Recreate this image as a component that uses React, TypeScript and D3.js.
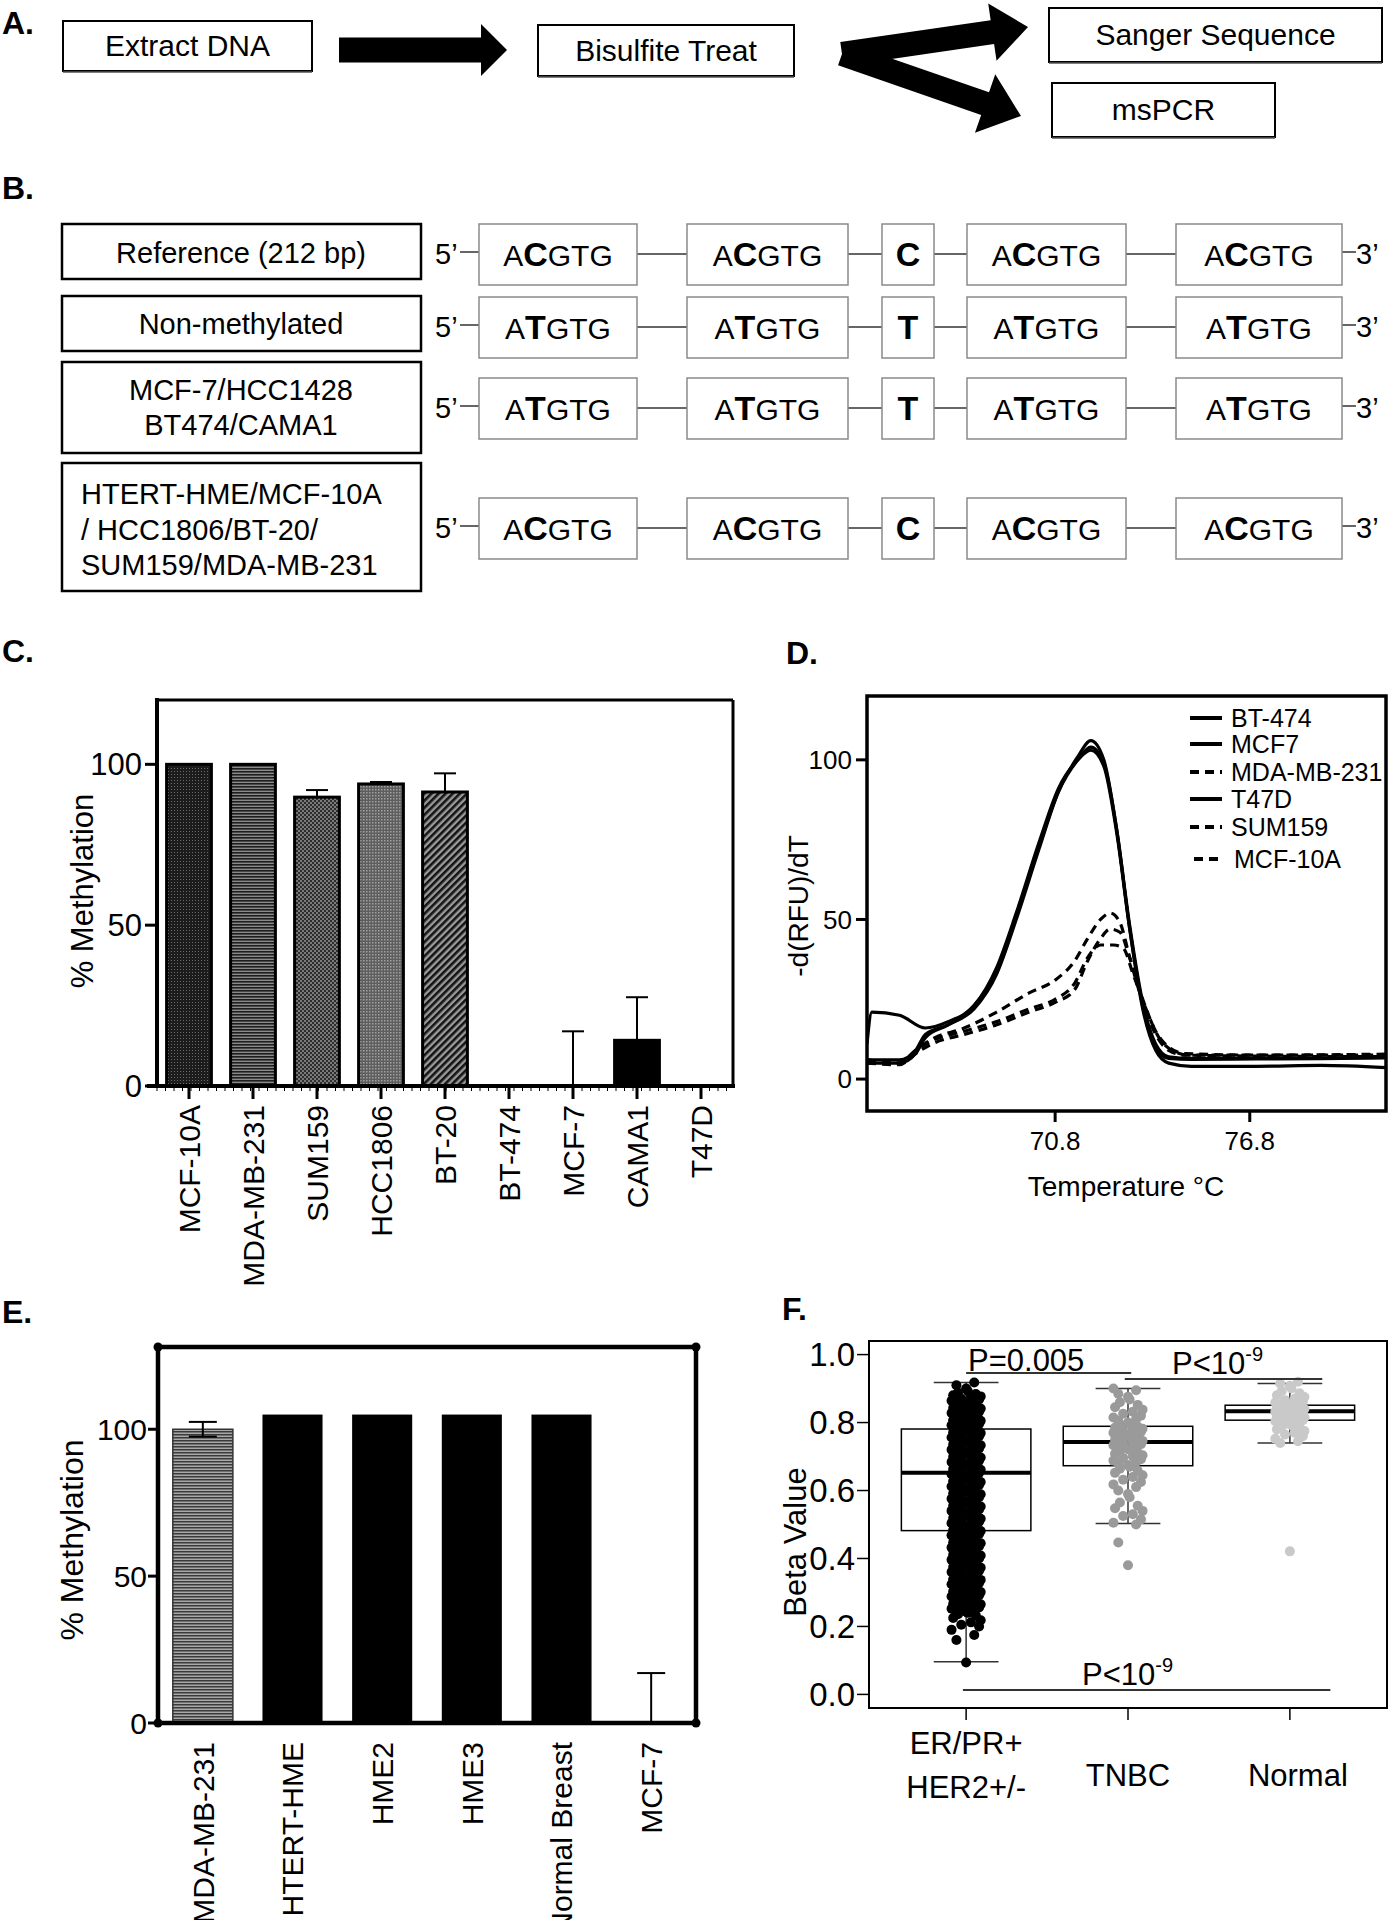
import * as d3 from "d3";

const FONT = "'Liberation Sans', Arial, Helvetica, sans-serif";

// ---------- A: workflow ----------
const flowSteps = ["Extract DNA", "Bisulfite Treat", "Sanger Sequence", "msPCR"];

// ---------- B: bisulfite sequence rows ----------
const seqLabels = [
  ["Reference (212 bp)"],
  ["Non-methylated"],
  ["MCF-7/HCC1428", "BT474/CAMA1"],
  ["HTERT-HME/MCF-10A", "/ HCC1806/BT-20/", "SUM159/MDA-MB-231"],
];
const seqBase = ["C", "T", "T", "C"];

// ---------- C: % methylation, cell lines ----------
const cCells = ["MCF-10A", "MDA-MB-231", "SUM159", "HCC1806", "BT-20", "BT-474", "MCF-7", "CAMA1", "T47D"];
const cMeans = [100, 100, 89.8, 93.9, 91.4, 0, 0, 14.2, 0];
const cErr = [0, 0, 2.2, 0.6, 5.8, 0, 17, 13.4, 0];
const cTicks = [0, 50, 100];

// ---------- D: melt curves ----------
const dNames = ["BT-474", "MCF7", "MDA-MB-231", "T47D", "SUM159", "MCF-10A"];
const dDashed = [false, false, true, false, true, true];
const meltBT474 = [[65, 6], [66, 6], [66.5, 9], [66.8, 14], [67.5, 17], [68.3, 22], [69, 33], [69.6, 50], [70.3, 72], [70.9, 90], [71.5, 101], [71.9, 106], [72.3, 100], [72.7, 78], [73.1, 48], [73.5, 24], [73.9, 11], [74.3, 7], [75, 6.5], [77, 6.5], [79, 6.6], [81, 6.8]];
const meltMCF7 = [[65, 5], [66, 5], [66.5, 8], [66.8, 13], [67.5, 17], [68.3, 23], [69, 34], [69.6, 51], [70.3, 73], [70.9, 90], [71.5, 100], [71.9, 104], [72.3, 99], [72.7, 78], [73.1, 47], [73.5, 22], [73.9, 9], [74.3, 5], [75, 4], [77, 4], [79, 4.3], [81, 3.6]];
const meltMDA = [[65, 6], [66, 5], [66.5, 9], [67, 12.5], [68, 16], [69, 21], [70, 27], [70.8, 31], [71.4, 37], [71.8, 44], [72.2, 50], [72.5, 52], [72.8, 49], [73.1, 38], [73.5, 24], [73.9, 14], [74.3, 9], [74.8, 7.5], [77, 7.5], [81, 7.8]];
const meltT47D = [[65, 11], [65.15, 21], [66, 20], [66.8, 16], [67.5, 18], [68.3, 23], [69, 35], [69.6, 52], [70.3, 74], [70.9, 91], [71.5, 100], [71.9, 103], [72.3, 98], [72.7, 77], [73.1, 47], [73.5, 23], [73.9, 10], [74.3, 6.5], [75, 6.2], [77, 6.3], [79, 6.4], [81, 6.6]];
const meltSUM159 = [[65, 5], [66, 4.5], [66.5, 8], [67, 11], [68, 14], [69, 17], [70, 21], [70.8, 24], [71.4, 28], [71.8, 37], [72.2, 44], [72.5, 47], [72.8, 46], [73.1, 38], [73.5, 25], [73.9, 15], [74.3, 10], [74.8, 8], [77, 7.5], [81, 7.5]];
const meltMCF10A = [[65, 6], [66, 5], [66.5, 9], [67, 12], [68, 15], [69, 18], [70, 22], [70.8, 25], [71.4, 30], [71.8, 38], [72.2, 42], [72.6, 42], [72.9, 41], [73.2, 33], [73.6, 22], [74, 13], [74.4, 9], [74.9, 7.5], [77, 7.2], [81, 7]];
const dCurves = [meltBT474, meltMCF7, meltMDA, meltT47D, meltSUM159, meltMCF10A];
const dYTicks = [0, 50, 100];
const dXTicks = [70.8, 76.8];

// ---------- E: % methylation, normal lines ----------
const eCells = ["MDA-MB-231", "HTERT-HME", "HME2", "HME3", "Normal Breast", "MCF-7"];
const eMeans = [100, 105, 105, 105, 105, 0];
const eErr = [2.5, 0, 0, 0, 0, 17];

// ---------- F: beta values ----------
const fGroups = [["ER/PR+", "HER2+/-"], ["TNBC"], ["Normal"]];
const fQ1 = [0.482, 0.673, 0.807];
const fMed = [0.652, 0.743, 0.833];
const fQ3 = [0.781, 0.789, 0.851];
const fLo = [0.096, 0.503, 0.74];
const fHi = [0.918, 0.9, 0.915];
const fYTicks = [0, 0.2, 0.4, 0.6, 0.8, 1.0];
const erprBeta = [
  0.094, 0.16, 0.175, 0.19, 0.2, 0.205, 0.212, 0.218, 0.225, 0.232, 0.236,
  0.240, 0.243, 0.247, 0.249, 0.252, 0.256, 0.258, 0.261, 0.265, 0.267,
  0.270, 0.274, 0.276, 0.279, 0.283, 0.285, 0.288, 0.292, 0.294, 0.297,
  0.301, 0.303, 0.306, 0.310, 0.312, 0.315, 0.319, 0.321, 0.324, 0.328,
  0.330, 0.333, 0.337, 0.339, 0.342, 0.346, 0.348, 0.351, 0.355, 0.357,
  0.360, 0.364, 0.366, 0.369, 0.373, 0.375, 0.378, 0.382, 0.384, 0.387,
  0.391, 0.393, 0.396, 0.400, 0.402, 0.405, 0.409, 0.411, 0.414, 0.418,
  0.420, 0.423, 0.427, 0.429, 0.432, 0.436, 0.438, 0.441, 0.445, 0.447,
  0.450, 0.454, 0.456, 0.459, 0.463, 0.465, 0.468, 0.472, 0.474, 0.477,
  0.481, 0.483, 0.486, 0.490, 0.492, 0.495, 0.499, 0.501, 0.504, 0.508,
  0.510, 0.513, 0.517, 0.519, 0.522, 0.526, 0.528, 0.531, 0.535, 0.537,
  0.540, 0.544, 0.546, 0.549, 0.553, 0.555, 0.558, 0.562, 0.564, 0.567,
  0.571, 0.573, 0.576, 0.580, 0.582, 0.585, 0.589, 0.591, 0.594, 0.598,
  0.600, 0.603, 0.607, 0.609, 0.612, 0.616, 0.618, 0.621, 0.625, 0.627,
  0.630, 0.634, 0.636, 0.639, 0.643, 0.645, 0.648, 0.652, 0.654, 0.657,
  0.661, 0.663, 0.666, 0.670, 0.672, 0.675, 0.679, 0.681, 0.684, 0.688,
  0.690, 0.693, 0.697, 0.699, 0.702, 0.706, 0.708, 0.711, 0.715, 0.717,
  0.720, 0.724, 0.726, 0.729, 0.733, 0.735, 0.738, 0.742, 0.744, 0.747,
  0.751, 0.753, 0.756, 0.760, 0.762, 0.765, 0.769, 0.771, 0.774, 0.778,
  0.780, 0.783, 0.787, 0.789, 0.792, 0.796, 0.798, 0.801, 0.805, 0.807,
  0.810, 0.814, 0.816, 0.819, 0.823, 0.825, 0.828, 0.832, 0.834, 0.837,
  0.841, 0.843, 0.846, 0.850, 0.852, 0.855, 0.859, 0.861, 0.864, 0.868,
  0.870, 0.873, 0.877, 0.880, 0.884, 0.888, 0.893, 0.9, 0.91, 0.918,
];
const tnbcBeta = [
  0.38, 0.447, 0.5, 0.505, 0.515, 0.525, 0.53, 0.54, 0.548, 0.555, 0.565, 0.58,
  0.59, 0.6, 0.61, 0.618, 0.625, 0.632, 0.64, 0.645, 0.652, 0.658, 0.664, 0.67,
  0.675, 0.68, 0.684, 0.688, 0.692, 0.696, 0.7, 0.704, 0.708, 0.712, 0.716, 0.72,
  0.723, 0.726, 0.73, 0.733, 0.736, 0.74, 0.743, 0.746, 0.749, 0.752, 0.755, 0.758,
  0.761, 0.764, 0.767, 0.77, 0.773, 0.776, 0.779, 0.782, 0.785, 0.788, 0.792, 0.796,
  0.8, 0.805, 0.81, 0.815, 0.82, 0.826, 0.832, 0.838, 0.845, 0.852, 0.86, 0.868,
  0.876, 0.885, 0.895, 0.9,
];
const normalBeta = [
  0.421, 0.74, 0.745, 0.752, 0.76, 0.765, 0.77, 0.775, 0.78, 0.785, 0.788, 0.792,
  0.795, 0.798, 0.801, 0.804, 0.807, 0.81, 0.812, 0.815, 0.817, 0.82, 0.822, 0.824,
  0.826, 0.828, 0.83, 0.832, 0.834, 0.836, 0.838, 0.84, 0.842, 0.844, 0.846, 0.848,
  0.85, 0.853, 0.856, 0.859, 0.862, 0.866, 0.87, 0.875, 0.88, 0.886, 0.893, 0.9,
  0.908, 0.915, 0.92,
];
const fPoints = [erprBeta, tnbcBeta, normalBeta];
const fColors = ["#000000", "#9a9a9a", "#c9c9c9"];
// fixed horizontal jitter cycle (group units)
const jitter = [0, -0.06, 0.05, -0.09, 0.08, -0.03, 0.03, 0.09, -0.08, 0.06, -0.05, 0.01];

const cFills = ["url(#pDots)", "url(#pHoriz)", "url(#pCheck)", "url(#pFine)", "url(#pDiag)", "#000", "#000", "#000", "#000"];
const eFills = ["url(#pHorizE)", "#000", "#000", "#000", "#000", "#000"];

function Label({ x, y, t }) {
  return (
    <text x={x} y={y} fontSize={32} fontWeight="bold" fontFamily={FONT}>
      {t}
    </text>
  );
}

function blockArrow(x0, y0, x1, y1, bw, hw, hl) {
  const dx = x1 - x0, dy = y1 - y0;
  const len = Math.hypot(dx, dy);
  const ux = dx / len, uy = dy / len;
  const px = -uy, py = ux;
  const bx = x1 - ux * hl, by = y1 - uy * hl;
  const pts = [
    [x0 + px * bw / 2, y0 + py * bw / 2],
    [bx + px * bw / 2, by + py * bw / 2],
    [bx + px * hw / 2, by + py * hw / 2],
    [x1, y1],
    [bx - px * hw / 2, by - py * hw / 2],
    [bx - px * bw / 2, by - py * bw / 2],
    [x0 - px * bw / 2, y0 - py * bw / 2],
  ];
  return pts.map((p) => p.join(",")).join(" ");
}

function PanelA() {
  const boxes = [
    { x: 63, y: 21, w: 249, h: 50 },
    { x: 538, y: 25, w: 256, h: 51 },
    { x: 1049, y: 8, w: 333, h: 54 },
    { x: 1052, y: 83, w: 223, h: 54 },
  ];
  return (
    <g>
      <Label x={2} y={34} t="A." />
      {boxes.map((b, i) => (
        <g key={i}>
          <rect x={b.x} y={b.y} width={b.w} height={b.h} fill="#fff" stroke="#000" strokeWidth={2} />
          <line x1={b.x} x2={b.x + b.w} y1={b.y + b.h + 1} y2={b.y + b.h + 1} stroke="#555" strokeWidth={1.5} />
          <text x={b.x + b.w / 2} y={b.y + b.h / 2 + 10} textAnchor="middle" fontSize={30} fontFamily={FONT}>
            {flowSteps[i]}
          </text>
        </g>
      ))}
      <polygon points={blockArrow(339, 50, 507, 50, 25, 52, 26)} fill="#000" />
      <polygon points={blockArrow(842, 54, 1028, 27, 24, 58, 36)} fill="#000" />
      <polygon points={blockArrow(842, 54, 1021, 116, 24, 62, 38)} fill="#000" />
    </g>
  );
}

function PanelB() {
  const labelBoxes = [[224, 279], [296, 351], [362, 453], [463, 591]];
  const baselines = [[263], [334], [400, 435], [504, 540, 575]];
  const rowTop = [224, 297, 378, 498];
  const segs = [[479, 637], [687, 848], [882, 934], [967, 1126], [1176, 1342]];
  return (
    <g fontFamily={FONT}>
      <Label x={2} y={199} t="B." />
      {labelBoxes.map(([y0, y1], i) => (
        <g key={i}>
          <rect x={62} y={y0} width={359} height={y1 - y0} fill="#fff" stroke="#000" strokeWidth={2.5} />
          {seqLabels[i].map((s, j) => (
            <text
              key={j}
              x={i === 3 ? 81 : 241}
              y={baselines[i][j]}
              textAnchor={i === 3 ? "start" : "middle"}
              fontSize={29}
            >
              {s}
            </text>
          ))}
        </g>
      ))}
      {rowTop.map((t, i) => {
        const cy = t + 30;
        return (
          <g key={i}>
            <text x={435} y={cy + 10} fontSize={29}>5’</text>
            <line x1={460} x2={479} y1={cy - 2} y2={cy - 2} stroke="#333" strokeWidth={1.5} />
            {segs.slice(0, -1).map((s, k) => (
              <line key={k} x1={s[1]} x2={segs[k + 1][0]} y1={cy} y2={cy} stroke="#333" strokeWidth={1.5} />
            ))}
            <line x1={1342} x2={1356} y1={cy - 2} y2={cy - 2} stroke="#333" strokeWidth={1.5} />
            <text x={1356} y={cy + 10} fontSize={29}>3’</text>
            {segs.map((s, k) => (
              <g key={k}>
                <rect x={s[0]} y={t} width={s[1] - s[0]} height={61} fill="#fff" stroke="#8a8a8a" strokeWidth={1.5} />
                <text x={(s[0] + s[1]) / 2} y={cy + 12} textAnchor="middle" fontSize={30}>
                  {k === 2 ? (
                    <tspan fontWeight="bold" fontSize={34}>{seqBase[i]}</tspan>
                  ) : (
                    <>
                      A<tspan fontWeight="bold" fontSize={34}>{seqBase[i]}</tspan>GTG
                    </>
                  )}
                </text>
              </g>
            ))}
          </g>
        );
      })}
    </g>
  );
}

function Patterns() {
  return (
    <defs>
      <pattern id="pDots" width="3" height="3" patternUnits="userSpaceOnUse">
        <rect width="3" height="3" fill="#1c1c1c" />
        <rect width="1" height="1" fill="#6a6a6a" />
      </pattern>
      <pattern id="pHoriz" width="3" height="3" patternUnits="userSpaceOnUse">
        <rect width="3" height="3" fill="#8a8a8a" />
        <rect width="3" height="1.6" fill="#1e1e1e" />
      </pattern>
      <pattern id="pCheck" width="4" height="4" patternUnits="userSpaceOnUse">
        <rect width="4" height="4" fill="#2e2e2e" />
        <rect width="2" height="2" fill="#7a7a7a" />
        <rect x="2" y="2" width="2" height="2" fill="#7a7a7a" />
      </pattern>
      <pattern id="pFine" width="3" height="3" patternUnits="userSpaceOnUse">
        <rect width="3" height="3" fill="#5e5e5e" />
        <rect width="1.5" height="1.5" fill="#a0a0a0" />
      </pattern>
      <pattern id="pDiag" width="5" height="5" patternUnits="userSpaceOnUse" patternTransform="rotate(45)">
        <rect width="5" height="5" fill="#9a9a9a" />
        <rect width="2.6" height="5" fill="#141414" />
      </pattern>
      <pattern id="pHorizE" width="3" height="3" patternUnits="userSpaceOnUse">
        <rect width="3" height="3" fill="#a8a8a8" />
        <rect width="3" height="1.5" fill="#3a3a3a" />
      </pattern>
      <clipPath id="clipD">
        <rect x={867} y={696} width={519} height={415} />
      </clipPath>
    </defs>
  );
}

function PanelC() {
  const x = d3.scaleBand().domain(cCells).range([157, 733]).paddingInner(0.3).paddingOuter(0.15);
  const y = d3.scaleLinear().domain([0, 120]).range([1086, 700]);
  const bw = x.bandwidth();
  return (
    <g fontFamily={FONT}>
      <Label x={2} y={662} t="C." />
      {cCells.map((c, i) => {
        const bx = x(c);
        const cx = bx + bw / 2;
        return (
          <g key={c}>
            {cMeans[i] > 0 && (
              <rect x={bx} y={y(cMeans[i])} width={bw} height={y(0) - y(cMeans[i])} fill={cFills[i]} stroke="#000" strokeWidth={3} />
            )}
            {cErr[i] > 0 && (
              <g stroke="#000" strokeWidth={2}>
                <line x1={cx} x2={cx} y1={y(cMeans[i])} y2={y(cMeans[i] + cErr[i])} />
                <line x1={cx - 11} x2={cx + 11} y1={y(cMeans[i] + cErr[i])} y2={y(cMeans[i] + cErr[i])} />
              </g>
            )}
            <line x1={cx} x2={cx} y1={y(0)} y2={y(0) + 13} stroke="#000" strokeWidth={3} />
            <text
              transform={`translate(${cx},${1105}) rotate(-90)`}
              textAnchor="end"
              dy="0.36em"
              fontSize={30}
            >
              {c}
            </text>
          </g>
        );
      })}
      {d3.range(157, 733, 8.5).map((mx, i) => (
        <line key={i} x1={mx} x2={mx} y1={y(0) + 2} y2={y(0) + 5} stroke="#000" strokeWidth={1} />
      ))}
      <line x1={157} x2={733} y1={700} y2={700} stroke="#000" strokeWidth={3} />
      <line x1={733} x2={733} y1={700} y2={y(0)} stroke="#000" strokeWidth={3} />
      <line x1={157} x2={157} y1={698} y2={y(0) + 2} stroke="#000" strokeWidth={4} />
      <line x1={147} x2={735} y1={y(0)} y2={y(0)} stroke="#000" strokeWidth={4} />
      {cTicks.map((t) => (
        <g key={t}>
          <line x1={145} x2={157} y1={y(t)} y2={y(t)} stroke="#000" strokeWidth={3} />
          <text x={142} y={y(t)} dy="0.36em" textAnchor="end" fontSize={31}>{t}</text>
        </g>
      ))}
      <text transform={`translate(${82},${891}) rotate(-90)`} textAnchor="middle" dy="0.36em" fontSize={31}>% Methylation</text>
    </g>
  );
}

function PanelD() {
  const x = d3.scaleLinear().domain([65, 81]).range([867, 1386]);
  const y = d3.scaleLinear().domain([-10, 120]).range([1111, 696]);
  const line = d3.line().x((d) => x(d[0])).y((d) => y(d[1])).curve(d3.curveMonotoneX);
  const legY = [718, 744, 772, 799, 827, 859];
  return (
    <g fontFamily={FONT}>
      <Label x={786} y={664} t="D." />
      <g clipPath="url(#clipD)">
        {dCurves.map((c, i) => (
          <path
            key={dNames[i]}
            d={line(c)}
            fill="none"
            stroke="#000"
            strokeWidth={3.2}
            strokeDasharray={dDashed[i] ? "9,6" : null}
          />
        ))}
      </g>
      <rect x={867} y={696} width={519} height={415} fill="none" stroke="#000" strokeWidth={3.5} />
      {dYTicks.map((t) => (
        <g key={t}>
          <line x1={856} x2={867} y1={y(t)} y2={y(t)} stroke="#000" strokeWidth={3} />
          <text x={852} y={y(t)} dy="0.36em" textAnchor="end" fontSize={26}>{t}</text>
        </g>
      ))}
      {dXTicks.map((t) => (
        <g key={t}>
          <line x1={x(t)} x2={x(t)} y1={1111} y2={1122} stroke="#000" strokeWidth={3} />
          <text x={x(t)} y={1150} textAnchor="middle" fontSize={26}>{t}</text>
        </g>
      ))}
      <text x={1126} y={1196} textAnchor="middle" fontSize={28}>Temperature °C</text>
      <text transform={`translate(${808},${906}) rotate(-90)`} textAnchor="middle" fontSize={28}>-d(RFU)/dT</text>
      {dNames.map((n, i) => (
        <g key={n}>
          <line
            x1={i === 5 ? 1194 : 1190}
            x2={1222}
            y1={legY[i]}
            y2={legY[i]}
            stroke="#000"
            strokeWidth={4}
            strokeDasharray={dDashed[i] ? "9,6" : null}
          />
          <text x={i === 5 ? 1234 : 1231} y={legY[i]} dy="0.36em" fontSize={25}>{n}</text>
        </g>
      ))}
    </g>
  );
}

function PanelE() {
  const x = d3.scaleBand().domain(eCells).range([158, 696]).paddingInner(0.33).paddingOuter(0.165);
  const y = d3.scaleLinear().domain([0, 128]).range([1723, 1347]);
  const bw = x.bandwidth();
  const corners = [[158, 1347], [696, 1347], [696, 1723], [158, 1723]];
  return (
    <g fontFamily={FONT}>
      <Label x={2} y={1323} t="E." />
      {eCells.map((c, i) => {
        const bx = x(c);
        const cx = bx + bw / 2;
        const hi = eMeans[i] + eErr[i];
        return (
          <g key={c}>
            {eMeans[i] > 0 && (
              <rect
                x={bx}
                y={y(eMeans[i])}
                width={bw}
                height={y(0) - y(eMeans[i])}
                fill={eFills[i]}
                stroke={i === 0 ? "#333" : "#000"}
                strokeWidth={i === 0 ? 1.5 : 0}
              />
            )}
            {eErr[i] > 0 && (
              <g stroke="#000" strokeWidth={2}>
                <line x1={cx} x2={cx} y1={y(eMeans[i] > 0 ? eMeans[i] - eErr[i] : 0)} y2={y(hi)} />
                <line x1={cx - 14} x2={cx + 14} y1={y(hi)} y2={y(hi)} />
                {eMeans[i] > 0 && (
                  <line x1={cx - 14} x2={cx + 14} y1={y(eMeans[i] - eErr[i])} y2={y(eMeans[i] - eErr[i])} />
                )}
              </g>
            )}
            <text
              transform={`translate(${cx},${1742}) rotate(-90)`}
              textAnchor="end"
              dy="0.36em"
              fontSize={30}
            >
              {c}
            </text>
          </g>
        );
      })}
      <polygon points={corners.map((p) => p.join(",")).join(" ")} fill="none" stroke="#000" strokeWidth={4.5} />
      {corners.map((p, i) => (
        <circle key={i} cx={p[0]} cy={p[1]} r={4.5} fill="#000" />
      ))}
      {[0, 50, 100].map((t) => (
        <g key={t}>
          <line x1={148} x2={158} y1={y(t)} y2={y(t)} stroke="#000" strokeWidth={3} />
          <text x={147} y={y(t)} dy="0.36em" textAnchor="end" fontSize={30}>{t}</text>
        </g>
      ))}
      <text transform={`translate(${83},${1540}) rotate(-90)`} textAnchor="middle" fontSize={32}>% Methylation</text>
    </g>
  );
}

function PanelF() {
  const x = d3.scaleLinear().domain([0.4, 3.6]).range([869, 1387]);
  const y = d3.scaleLinear().domain([-0.04, 1.04]).range([1708, 1341]);
  const u = x(1) - x(0);
  return (
    <g fontFamily={FONT}>
      <Label x={782} y={1320} t="F." />
      {fGroups.map((g, i) => {
        const gx = x(i + 1);
        return (
          <g key={i}>
            <line x1={gx} x2={gx} y1={y(fLo[i])} y2={y(fQ1[i])} stroke="#333" strokeWidth={1.5} />
            <line x1={gx} x2={gx} y1={y(fQ3[i])} y2={y(fHi[i])} stroke="#333" strokeWidth={1.5} />
            <line x1={gx - 0.2 * u} x2={gx + 0.2 * u} y1={y(fLo[i])} y2={y(fLo[i])} stroke="#333" strokeWidth={1.5} />
            <line x1={gx - 0.2 * u} x2={gx + 0.2 * u} y1={y(fHi[i])} y2={y(fHi[i])} stroke="#333" strokeWidth={1.5} />
            <rect x={gx - 0.4 * u} y={y(fQ3[i])} width={0.8 * u} height={y(fQ1[i]) - y(fQ3[i])} fill="#fff" stroke="#000" strokeWidth={1.5} />
            <line x1={gx - 0.4 * u} x2={gx + 0.4 * u} y1={y(fMed[i])} y2={y(fMed[i])} stroke="#000" strokeWidth={4} />
          </g>
        );
      })}
      {fPoints.map((pts, i) =>
        pts.map((v, k) => (
          <circle
            key={`${i}-${k}`}
            cx={x(i + 1 + jitter[k % jitter.length])}
            cy={y(v)}
            r={5}
            fill={fColors[i]}
          />
        ))
      )}
      <rect x={869} y={1341} width={518} height={367} fill="none" stroke="#000" strokeWidth={2} />
      {fYTicks.map((t) => (
        <g key={t}>
          <line x1={857} x2={869} y1={y(t)} y2={y(t)} stroke="#000" strokeWidth={1.5} />
          <text x={855} y={y(t)} dy="0.36em" textAnchor="end" fontSize={33}>{t.toFixed(1)}</text>
        </g>
      ))}
      {fGroups.map((g, i) => (
        <g key={i}>
          <line x1={x(i + 1)} x2={x(i + 1)} y1={1708} y2={1720} stroke="#000" strokeWidth={1.5} />
          {g.map((s, j) => (
            <text key={j} x={x(i + 1) + (i === 2 ? 8 : 0)} y={g.length > 1 ? 1754 + j * 44 : 1786} textAnchor="middle" fontSize={31}>
              {s}
            </text>
          ))}
        </g>
      ))}
      <text transform={`translate(${806},${1542}) rotate(-90)`} textAnchor="middle" fontSize={31}>Beta Value</text>
      <g stroke="#333" strokeWidth={2}>
        <line x1={x(1)} x2={x(2.02)} y1={1373} y2={1373} />
        <line x1={x(1.98)} x2={x(3.2)} y1={1379} y2={1379} />
        <line x1={x(0.98)} x2={x(3.25)} y1={1690} y2={1690} />
      </g>
      <text x={968} y={1371} fontSize={31}>P=0.005</text>
      <text x={1172} y={1374} fontSize={31}>
        P&lt;10<tspan dy={-13} fontSize={20}>-9</tspan>
      </text>
      <text x={1082} y={1685} fontSize={31}>
        P&lt;10<tspan dy={-13} fontSize={20}>-9</tspan>
      </text>
    </g>
  );
}

export default function App() {
  return (
    <svg
      width={1390}
      height={1920}
      viewBox="0 0 1390 1920"
      style={{ position: "absolute", left: 0, top: 0, background: "#fff" }}
    >
      <Patterns />
      <rect width={1390} height={1920} fill="#fff" />
      <PanelA />
      <PanelB />
      <PanelC />
      <PanelD />
      <PanelE />
      <PanelF />
    </svg>
  );
}
